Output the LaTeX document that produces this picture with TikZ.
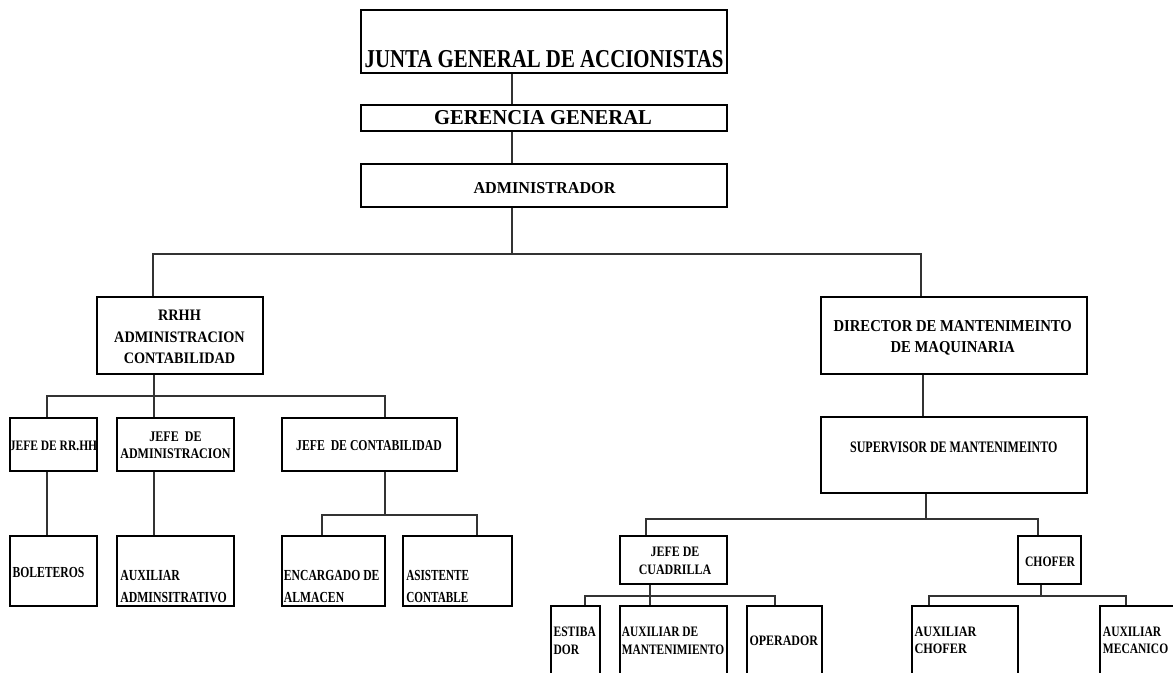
\documentclass[tikz,border=0pt]{standalone}
\usepackage{graphicx}
\usepackage{fontspec}
\setmainfont{Liberation Serif}
\usetikzlibrary{fit}
\newcommand\sxc[2]{\scalebox{#1}[1]{\begin{tabular}[t]{@{}c@{}}#2\end{tabular}}}
\newcommand\sxl[2]{\scalebox{#1}[1]{\begin{tabular}[t]{@{}l@{}}#2\end{tabular}}}
\tikzset{
  box/.style={draw=black, line width=1pt, inner sep=0pt},
  conn/.style={draw=black!80, line width=1pt},
  lbl/.style={inner sep=0pt, text=black},
  lc/.style={lbl, anchor=base},
  ll/.style={lbl, anchor=base west},
  fs/.style 2 args={font=\bfseries\fontsize{#1}{#2}\selectfont},
}
\begin{document}
\begin{tikzpicture}[x=0.75pt,y=-0.75pt]
\useasboundingbox (0,0) rectangle (1173,672);
\fill[white] (0,0) rectangle (1173,672);
\begin{scope}
\clip (0,0) rectangle (1173,672);
% boxes
\node[box, fit={(361,10) (727,73)}] (junta) {};
\node[box, fit={(361,105) (727,131)}] (ger) {};
\node[box, fit={(361,164) (727,207)}] (adm) {};
\node[box, fit={(97,297) (263,374)}] (rrhh) {};
\node[box, fit={(821,297) (1087,374)}] (dir) {};
\node[box, fit={(10,418) (97,471)}] (jrr) {};
\node[box, fit={(117,418) (234,471)}] (jad) {};
\node[box, fit={(282,418) (457,471)}] (jco) {};
\node[box, fit={(821,417) (1087,493)}] (sup) {};
\node[box, fit={(10,536) (97,606)}] (bol) {};
\node[box, fit={(117,536) (234,606)}] (aux) {};
\node[box, fit={(282,536) (385,606)}] (enc) {};
\node[box, fit={(403,536) (512,606)}] (asi) {};
\node[box, fit={(620,536) (727,584)}] (jcu) {};
\node[box, fit={(1018,536) (1081,584)}] (cho) {};
\node[box, fit={(551,606) (600,700)}] (est) {};
\node[box, fit={(620,606) (727,700)}] (amt) {};
\node[box, fit={(747,606) (822,700)}] (ope) {};
\node[box, fit={(912,606) (1018,700)}] (ach) {};
\node[box, fit={(1100,606) (1190,700)}] (ame) {};
% labels
\node[lc, fs={19.3}{24}] (tjunta) at (544,67) {\sxc{0.81}{JUNTA GENERAL DE ACCIONISTAS}};
\node[lc, fs={15.9}{19}] (tger) at (543,124) {\sxc{0.97}{GERENCIA GENERAL}};
\node[lc, fs={12.5}{15}] (tadm) at (544.5,193) {\sxc{0.97}{ADMINISTRADOR}};
\node[lc, fs={12}{16.1}] (trrhh) at (179.5,320.7) {\sxc{0.89}{RRHH\\ADMINISTRACION\\CONTABILIDAD}};
\node[lc, fs={10.8}{13}] (tjrr) at (53.5,450) {\sxc{0.80}{JEFE DE RR.HH}};
\node[lc, fs={11}{13.1}] (tjad) at (175.5,441) {\sxc{0.82}{JEFE~~DE\\ADMINISTRACION}};
\node[lc, fs={11.3}{13}] (tjco) at (369,450.5) {\sxc{0.78}{JEFE~~DE CONTABILIDAD}};
\node[ll, fs={11.5}{16.3}] (tbol) at (12.3,577) {\sxl{0.76}{BOLETEROS}};
\node[ll, fs={11.5}{16.3}] (taux) at (120,580.7) {\sxl{0.77}{AUXILIAR\\ADMINSITRATIVO}};
\node[ll, fs={11.5}{16.3}] (tenc) at (283.7,580.7) {\sxl{0.76}{ENCARGADO DE\\ALMACEN}};
\node[ll, fs={11.5}{16.3}] (tasi) at (406,580.7) {\sxl{0.73}{ASISTENTE\\CONTABLE}};
\node[lc, fs={12.5}{16.2}] (tdir) at (952.7,331.2) {\sxc{0.88}{DIRECTOR DE MANTENIMEINTO\\DE MAQUINARIA}};
\node[lc, fs={12}{14}] (tsup) at (953.8,452) {\sxc{0.75}{SUPERVISOR DE MANTENIMEINTO}};
\node[lc, fs={10.8}{13.5}] (tjcu) at (675,556.7) {\sxc{0.83}{JEFE DE\\CUADRILLA}};
\node[ll, fs={10.8}{13.1}] (test) at (553.3,636.7) {\sxl{0.80}{ESTIBA\\DOR}};
\node[ll, fs={10.8}{13.1}] (tamt) at (621.7,636.7) {\sxl{0.79}{AUXILIAR DE\\MANTENIMIENTO}};
\node[ll, fs={10.8}{13.1}] (tope) at (749.3,645) {\sxl{0.83}{OPERADOR}};
\node[lc, fs={10.8}{13.1}] (tcho) at (1050,566) {\sxc{0.81}{CHOFER}};
\node[ll, fs={10.8}{12.8}] (tach) at (914.3,636.7) {\sxl{0.85}{AUXILIAR\\CHOFER}};
\node[ll, fs={10.8}{12.8}] (tame) at (1102.7,636.7) {\sxl{0.80}{AUXILIAR\\MECANICO}};
% connector coordinates
\coordinate (cTr) at (512,0);
\coordinate (b1L) at (153,254);
\coordinate (b1R) at (921,254);
\coordinate (b2L) at (47,396);
\coordinate (b2M) at (154,396);
\coordinate (b2R) at (385,396);
\coordinate (b3L) at (322,515);
\coordinate (b3R) at (477,515);
\coordinate (r1) at (923,0);
\coordinate (b4L) at (646,519);
\coordinate (b4M) at (926,519);
\coordinate (b4R) at (1038,519);
\coordinate (b5L) at (585,596);
\coordinate (b5M) at (650,596);
\coordinate (b5R) at (775,596);
\coordinate (b6L) at (929,596);
\coordinate (b6M) at (1041,596);
\coordinate (b6R) at (1126,596);
% connectors
\draw[conn] (junta.south -| cTr) -- (ger.north -| cTr);
\draw[conn] (ger.south -| cTr) -- (adm.north -| cTr);
\draw[conn] (adm.south -| cTr) -- (cTr |- b1L);
\draw[conn] (rrhh.north -| b1L) -- (b1L) -- (b1R) -- (dir.north -| b1R);
\draw[conn] (rrhh.south -| b2M) -- (b2M);
\draw[conn] (jrr.north -| b2L) -- (b2L) -- (b2R) -- (jco.north -| b2R);
\draw[conn] (b2M) -- (jad.north -| b2M);
\draw[conn] (jrr.south -| b2L) -- (bol.north -| b2L);
\draw[conn] (jad.south -| b2M) -- (aux.north -| b2M);
\draw[conn] (jco.south -| b2R) -- (b2R |- b3L);
\draw[conn] (enc.north -| b3L) -- (b3L) -- (b3R) -- (asi.north -| b3R);
\draw[conn] (dir.south -| r1) -- (sup.north -| r1);
\draw[conn] (sup.south -| b4M) -- (b4M);
\draw[conn] (jcu.north -| b4L) -- (b4L) -- (b4R) -- (cho.north -| b4R);
\draw[conn] (jcu.south -| b5M) -- (b5M) -- (amt.north -| b5M);
\draw[conn] (est.north -| b5L) -- (b5L) -- (b5R) -- (ope.north -| b5R);
\draw[conn] (cho.south -| b6M) -- (b6M);
\draw[conn] (ach.north -| b6L) -- (b6L) -- (b6R) -- (ame.north -| b6R);
\end{scope}
\end{tikzpicture}
\end{document}
